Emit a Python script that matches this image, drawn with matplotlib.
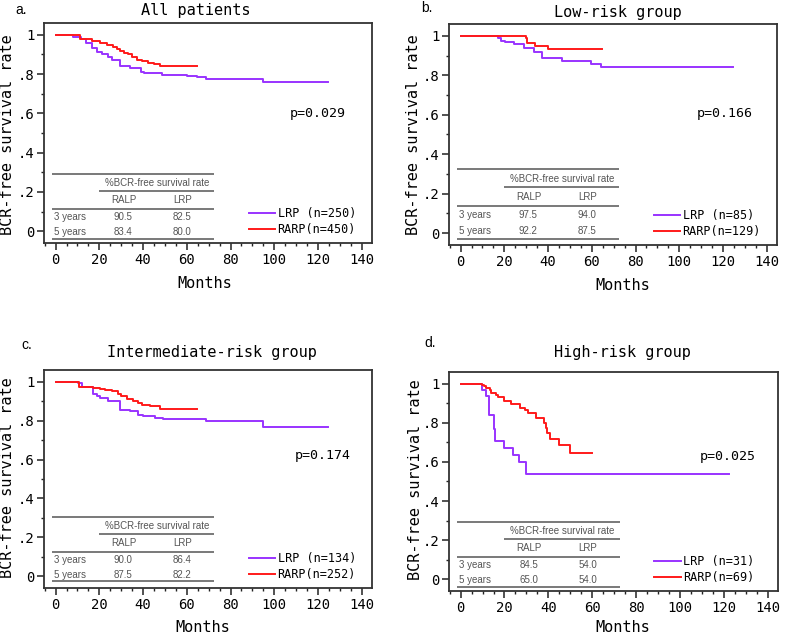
import matplotlib

matplotlib.use("Agg")

import matplotlib.pyplot as plt
from matplotlib.ticker import MultipleLocator, FixedLocator, FixedFormatter

W, H = 787, 635

TITLES = ["All patients", "Low-risk group", "Intermediate-risk group", "High-risk group"]
LETTERS = ["a.", "b.", "c.", "d."]
P_VALUES = ["p=0.029", "p=0.166", "p=0.174", "p=0.025"]
N_LRP = [250, 85, 134, 31]
N_RARP = [450, 129, 252, 69]

# Kaplan-Meier step curves (months, survival)
LRP_T = [
    [0, 8, 11.5, 14, 16.5, 18.8, 21, 24, 25.6, 29.5, 34, 39, 40.5, 48.5, 60, 64.5, 69, 95, 124.7],
    [0, 17.3, 18.5, 20.5, 24.5, 28.8, 33.6, 37.4, 46.2, 59.6, 64, 124.7],
    [0, 10.4, 11.9, 16.9, 18.8, 20.3, 24.1, 29.4, 34, 37.8, 40, 45.4, 49.2, 69, 95, 124.7],
    [0, 9.8, 11.5, 12.9, 15, 15.9, 19.8, 23.7, 26.7, 29.7, 122.5],
]
LRP_S = [
    [1, 0.99, 0.977, 0.959, 0.934, 0.912, 0.9, 0.885, 0.874, 0.843, 0.83, 0.813, 0.805, 0.796, 0.79, 0.783, 0.777, 0.762, 0.762],
    [1, 0.988, 0.976, 0.967, 0.957, 0.938, 0.916, 0.887, 0.872, 0.857, 0.84, 0.84],
    [1, 0.993, 0.973, 0.939, 0.927, 0.917, 0.9, 0.857, 0.848, 0.831, 0.824, 0.815, 0.808, 0.797, 0.768, 0.768],
    [1, 0.967, 0.938, 0.838, 0.77, 0.707, 0.673, 0.636, 0.602, 0.536, 0.536],
]
RARP_T = [
    [0, 11, 16.5, 20.3, 23.3, 26.4, 28, 29.5, 31.5, 33.3, 35, 37.1, 39.4, 42.4, 45, 47.7, 64.5],
    [0, 29.8, 30.3, 34, 40.1, 64.5],
    [0, 8, 10.9, 17.2, 20.3, 22.6, 25.6, 28.6, 30.1, 32.5, 35.5, 37.8, 39.3, 43.1, 47.7, 64.5],
    [0, 9.9, 10.5, 11.7, 13.2, 14, 16, 17.2, 19.8, 22.8, 26.9, 29.2, 30.7, 34.2, 38, 38.8, 39.5, 40.6, 44.9, 49.7, 60],
]
RARP_S = [
    [1, 0.977, 0.968, 0.959, 0.95, 0.94, 0.93, 0.917, 0.908, 0.9, 0.887, 0.874, 0.866, 0.857, 0.85, 0.843, 0.843],
    [1, 0.989, 0.964, 0.95, 0.931, 0.931],
    [1, 0.996, 0.975, 0.966, 0.962, 0.955, 0.95, 0.939, 0.927, 0.913, 0.9, 0.888, 0.879, 0.873, 0.862, 0.862],
    [1, 0.995, 0.986, 0.978, 0.966, 0.952, 0.944, 0.93, 0.91, 0.896, 0.876, 0.864, 0.849, 0.825, 0.8, 0.774, 0.749, 0.715, 0.685, 0.646, 0.646],
]

# %BCR-free survival rate tables: [3 years, 5 years]
TABLE_RALP = [["90.5", "83.4"], ["97.5", "92.2"], ["90.0", "87.5"], ["84.5", "65.0"]]
TABLE_LRP = [["82.5", "80.0"], ["94.0", "87.5"], ["86.4", "82.2"], ["54.0", "54.0"]]

# layout in pixels of the reference image
AX_BOX = [(44, 23, 372, 243), (449, 24, 777, 245), (44, 370, 372, 588), (449, 372, 778, 591)]
LETTER_XY = [(21, 10), (427, 8), (27, 345), (430, 343)]
TITLE_XY = [(196, 10), (618, 13), (212, 353), (622, 353)]
YLABEL_XY = [(8, 135), (413, 135), (8, 478), (415, 480)]
XLABEL_XY = [(205, 283), (623, 286), (203, 627), (623, 627)]
P_XY = [(120, 0.60), (120.7, 0.608), (122, 0.62), (122, 0.63)]
TABLE_TOP = [0.292, 0.326, 0.305, 0.294]
TABLE_SCALE = [1.0, 1.07, 1.0, 1.0]

MONO = "DejaVu Sans Mono"
SANS = "Liberation Sans"
LRP_COLOR = "#9933FF"
RARP_COLOR = "#FF1A1A"
TABLE_TEXT = "#555555"
TABLE_LINE = "#555555"


def fig_xy(x, y):
    return x / W, 1 - y / H


def draw_table(ax, i):
    top = TABLE_TOP[i]
    k = TABLE_SCALE[i]
    left, right, split = -1.5, 72.5, 20.0
    ax.hlines(top, left, right, color=TABLE_LINE, lw=1.1)
    ax.hlines(top - 0.086 * k, split, right, color=TABLE_LINE, lw=1.1)
    ax.hlines(top - 0.178 * k, left, right, color=TABLE_LINE, lw=1.1)
    ax.hlines(top - 0.331 * k, left, right, color=TABLE_LINE, lw=1.1)
    kw = dict(family=SANS, fontsize=7, color=TABLE_TEXT, va="center")
    ax.text(46.3, top - 0.047 * k, "%BCR-free survival rate", ha="center", **kw)
    ax.text(31, top - 0.133 * k, "RALP", ha="center", **kw)
    ax.text(58, top - 0.133 * k, "LRP", ha="center", **kw)
    for row, label in enumerate(["3 years", "5 years"]):
        y = top - (0.221 + 0.075 * row) * k
        ax.text(-0.6, y, label, ha="left", **kw)
        ax.text(31, y, TABLE_RALP[i][row], ha="center", **kw)
        ax.text(58, y, TABLE_LRP[i][row], ha="center", **kw)


def draw_panel(fig, i):
    l, t, r, b = AX_BOX[i]
    ax = fig.add_axes([l / W, 1 - b / H, (r - l) / W, (b - t) / H])
    lrp, = ax.step(LRP_T[i], LRP_S[i], where="post", color=LRP_COLOR, lw=1.4)
    rarp, = ax.step(RARP_T[i], RARP_S[i], where="post", color=RARP_COLOR, lw=1.4)

    ax.set_xlim(-5.3, 144.7)
    ax.set_ylim(-0.06, 1.06)
    ax.xaxis.set_major_locator(MultipleLocator(20))
    ax.xaxis.set_minor_locator(MultipleLocator(5))
    ax.yaxis.set_major_locator(FixedLocator([0, 0.2, 0.4, 0.6, 0.8, 1.0]))
    ax.yaxis.set_major_formatter(FixedFormatter(["0", ".2", ".4", ".6", ".8", "1"]))
    ax.yaxis.set_minor_locator(MultipleLocator(0.1))
    ax.tick_params(which="major", direction="out", length=5, width=1.1, color="#222222",
                   labelsize=10, pad=2)
    ax.tick_params(which="minor", direction="out", length=2.5, width=1.0, color="#222222")
    for lab in ax.get_xticklabels() + ax.get_yticklabels():
        lab.set_family(MONO)
    for sp in ax.spines.values():
        sp.set_linewidth(1.3)
        sp.set_color("#333333")

    ax.text(*P_XY[i], P_VALUES[i], ha="center", va="center", family=MONO, fontsize=9.5)
    draw_table(ax, i)

    ax.legend(
        [lrp, rarp],
        [f"LRP (n={N_LRP[i]})", f"RARP(n={N_RARP[i]})"],
        loc="lower left",
        bbox_to_anchor=(88.3, -0.025),
        bbox_transform=ax.transData,
        frameon=False,
        borderpad=0,
        borderaxespad=0,
        handlelength=2.25,
        handletextpad=0.2,
        labelspacing=0.25,
        prop={"family": MONO, "size": 8.5},
    )

    fig.text(*fig_xy(*LETTER_XY[i]), LETTERS[i], ha="center", va="center",
             family=SANS, fontsize=10)
    fig.text(*fig_xy(*TITLE_XY[i]), TITLES[i], ha="center", va="center",
             family=MONO, fontsize=11)
    fig.text(*fig_xy(*YLABEL_XY[i]), "BCR-free survival rate", ha="center", va="center",
             rotation=90, family=MONO, fontsize=11)
    fig.text(*fig_xy(*XLABEL_XY[i]), "Months", ha="center", va="center",
             family=MONO, fontsize=11)


def main() -> None:
    fig = plt.figure(figsize=(W / 100, H / 100), dpi=100)
    fig.patch.set_facecolor("white")
    for i in range(4):
        draw_panel(fig, i)
    fig.savefig("out.png", dpi=100, facecolor="white")
    plt.close(fig)


if __name__ == "__main__":
    main()
